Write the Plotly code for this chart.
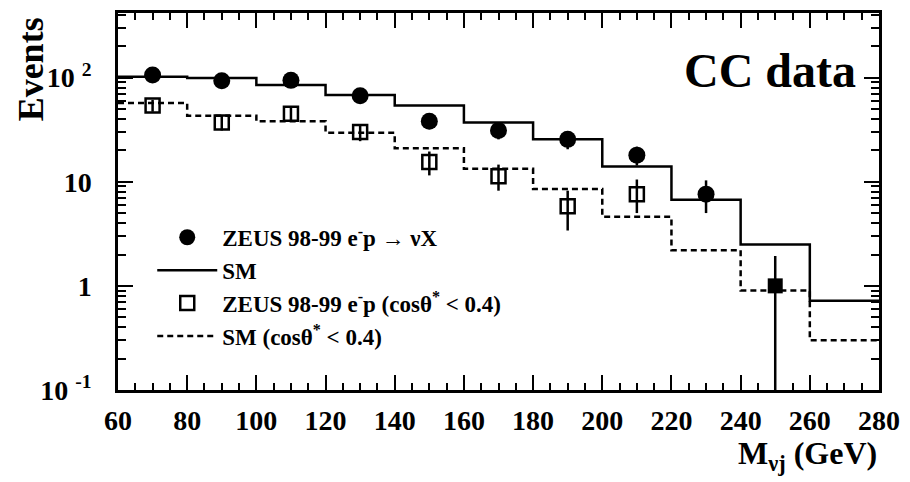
import plotly.graph_objects as go

# Bin edges of the mass histograms (GeV)
bin_edges = [60, 80, 100, 120, 140, 160, 180, 200, 220, 240, 260, 280]
bin_centres = [70, 90, 110, 130, 150, 170, 190, 210, 230, 250]

# Standard Model expectation, all events and cos(theta*) < 0.4
sm_all = [102, 99, 85, 68, 54, 37, 25.5, 14, 6.7, 2.5, 0.72]
sm_cut = [57, 43, 38, 29.5, 21, 13.3, 8.5, 4.6, 2.2, 0.9, 0.30]

# ZEUS 98-99 e-p data, all events
data_all = [106, 93, 94, 67, 38, 31, 25.5, 18, 7.6, 1]
data_all_up = [10, 9, 9, 8, 6, 5.5, 5, 3.7, 2.7, 0.94]
data_all_dn = [10, 9, 9, 8, 6, 5.5, 5, 3.7, 2.6, 0.9999]

# ZEUS 98-99 e-p data, cos(theta*) < 0.4
data_cut = [54, 37, 45, 30, 15.5, 11.3, 5.8, 7.6]
data_cut_up = [7, 6, 7, 5.5, 4, 3.3, 2.4, 2.9]
data_cut_dn = [7, 6, 7, 5.5, 4, 3.1, 2.4, 2.6]

y_ticks = [0.1, 1, 10, 100]
y_ticktext = ["10 <sup>-1</sup>", "1", "10", "10 <sup>2</sup>"]
x_ticks = list(range(60, 281, 20))

SERIF = "Liberation Serif"

fig = go.Figure()

fig.add_trace(go.Scatter(
    x=bin_edges, y=sm_all + [sm_all[-1]], mode="lines", line_shape="hv",
    line=dict(color="black", width=2.5), name="SM", legendrank=2,
))
fig.add_trace(go.Scatter(
    x=bin_edges, y=sm_cut + [sm_cut[-1]], mode="lines", line_shape="hv",
    line=dict(color="black", width=2.5, dash="6px,4px"),
    name="SM (cosθ<sup>*</sup> < 0.4)", legendrank=4,
))
fig.add_trace(go.Scatter(
    x=bin_centres[:len(data_cut)], y=data_cut, mode="markers",
    marker=dict(symbol="square-open", size=14, color="black", opacity=1,
                line=dict(width=2.5, color="black")),
    error_y=dict(type="data", array=data_cut_up, arrayminus=data_cut_dn,
                 color="black", thickness=2.5, width=0),
    name="ZEUS 98-99 e<sup>-</sup>p (cosθ<sup>*</sup> < 0.4)", legendrank=3,
))
fig.add_trace(go.Scatter(
    x=bin_centres, y=data_all, mode="markers",
    marker=dict(symbol=["circle"] * 9 + ["square"], size=[17] * 9 + [15],
                color="black", opacity=1, line=dict(width=0)),
    error_y=dict(type="data", array=data_all_up, arrayminus=data_all_dn,
                 color="black", thickness=2.5, width=0),
    name="ZEUS 98-99 e<sup>-</sup>p → νX", legendrank=1,
))

minor_y = [m * d for d in (0.1, 1, 10) for m in range(2, 10)] + [200, 300, 400]

fig.update_layout(
    width=910, height=482,
    margin=dict(l=118, r=29, t=10, b=92),
    paper_bgcolor="white", plot_bgcolor="white",
    font=dict(family=SERIF, color="black", weight="bold"),
    showlegend=True,
    legend=dict(
        x=0.045, y=0.462, xanchor="left", yanchor="top",
        bgcolor="rgba(0,0,0,0)", itemwidth=60,
        font=dict(family=SERIF, size=23, weight="bold"),
        tracegroupgap=4,
    ),
    xaxis=dict(
        range=[60, 280], tickvals=x_ticks,
        ticks="inside", ticklen=15, tickwidth=2, tickcolor="black",
        minor=dict(dtick=5, ticks="inside", ticklen=7, tickwidth=1.5,
                   tickcolor="black", showgrid=False),
        showline=True, linewidth=2.5, linecolor="black", mirror="ticks",
        showgrid=False, zeroline=False,
        tickfont=dict(family=SERIF, size=28, weight="bold"),
        ticklabelstandoff=4,
    ),
    yaxis=dict(
        type="log", range=[-1, 2.62],
        tickvals=y_ticks, ticktext=y_ticktext,
        ticks="inside", ticklen=15, tickwidth=2, tickcolor="black",
        minor=dict(tickvals=minor_y, ticks="inside", ticklen=8, tickwidth=1.5,
                   tickcolor="black", showgrid=False),
        showline=True, linewidth=2.5, linecolor="black", mirror="ticks",
        showgrid=False, zeroline=False,
        tickfont=dict(family=SERIF, size=28, weight="bold"),
        ticklabelstandoff=18,
    ),
    annotations=[
        dict(text="CC data", xref="paper", yref="paper", x=0.972, y=0.848,
             xanchor="right", yanchor="middle", showarrow=False,
             font=dict(family=SERIF, size=48, weight="bold")),
        dict(text="Events", xref="paper", yref="paper", x=-0.115, y=0.995,
             xanchor="center", yanchor="top", textangle=-90, showarrow=False,
             font=dict(family=SERIF, size=36, weight="bold")),
        dict(text="M<sub>νj</sub> (GeV)", xref="paper", yref="paper",
             x=1.0, y=-0.115, xanchor="right", yanchor="top", showarrow=False,
             font=dict(family=SERIF, size=32, weight="bold")),
    ],
)

fig.write_html("out.html")
